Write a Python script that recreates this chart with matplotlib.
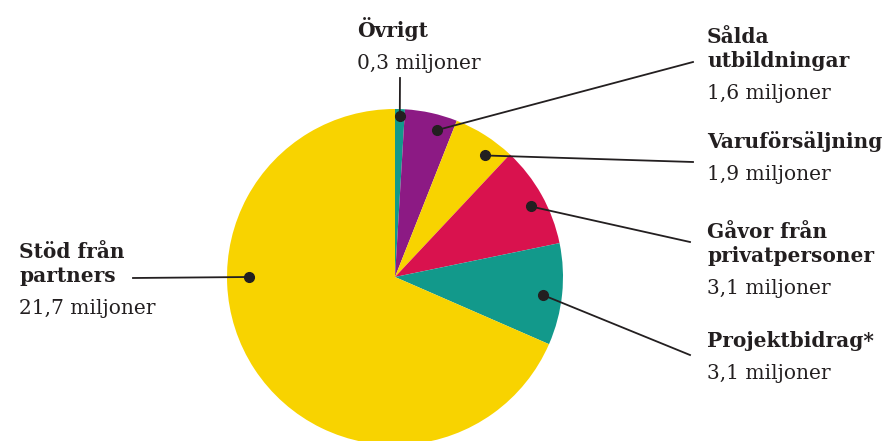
import numpy as np
import matplotlib.pyplot as plt

## Data
kategorier = ['Övrigt', 'Sålda\nutbildningar', 'Varuförsäljning',
              'Gåvor från\nprivatpersoner', 'Projektbidrag*', 'Stöd från\npartners']
belopp = [0.3, 1.6, 1.9, 3.1, 3.1, 21.7]
belopp_text = ['0,3 miljoner', '1,6 miljoner', '1,9 miljoner',
               '3,1 miljoner', '3,1 miljoner', '21,7 miljoner']
farger = ['#12998B', '#8C1A84', '#F8D300', '#D9124E', '#12998B', '#F8D300']

## Layout (pixel coords, y upwards)
W, H = 884, 441
cx, cy, r = 395, 441 - 277, 168
# vinkel fran toppen (medurs) och radie-andel for punkterna
punkt_vinkel = [1.7, 16, 36.5, 62.5, 97, 270]
punkt_radie = [0.96, 0.91, 0.90, 0.91, 0.89, 0.87]
# slutpunkt for linjer
linje_slut = [(400, 78), (693, 62), (693, 162), (690, 242), (690, 355), (133, 278)]
# textposition (x, baslinje for forsta raden)
text_pos = [(357, 37), (707, 43), (707, 148), (707, 238), (707, 347), (19, 258)]

mork = '#231F20'
plt.rcParams['font.family'] = ['DejaVu Serif']

fig = plt.figure(figsize=(W / 100, H / 100), dpi=100)
ax = fig.add_axes([0, 0, 1, 1])
ax.pie(belopp, colors=farger, startangle=90, counterclock=False,
       center=(cx, cy), radius=r, wedgeprops=dict(linewidth=0))
ax.set_xlim(0, W)
ax.set_ylim(0, H)
ax.set_aspect('equal')
ax.axis('off')

for i in range(len(belopp)):
    a = np.deg2rad(punkt_vinkel[i])
    px = cx + np.sin(a) * r * punkt_radie[i]
    py = cy + np.cos(a) * r * punkt_radie[i]
    lx, ly = linje_slut[i]
    ax.plot([px, lx], [py, H - ly], color=mork, lw=1.3, zorder=3)
    ax.plot(px, py, 'o', color=mork, ms=7, zorder=4)

    tx, ty = text_pos[i]
    rader = kategorier[i].split('\n')
    for j, rad in enumerate(rader):
        ax.text(tx, H - (ty + j * 24), rad, fontsize=14.5, fontweight='bold',
                color=mork, ha='left', va='baseline')
    ax.text(tx, H - (ty + (len(rader) - 1) * 24 + 32), belopp_text[i],
            fontsize=14.5, color=mork, ha='left', va='baseline')

plt.savefig('out.png', dpi=100)
